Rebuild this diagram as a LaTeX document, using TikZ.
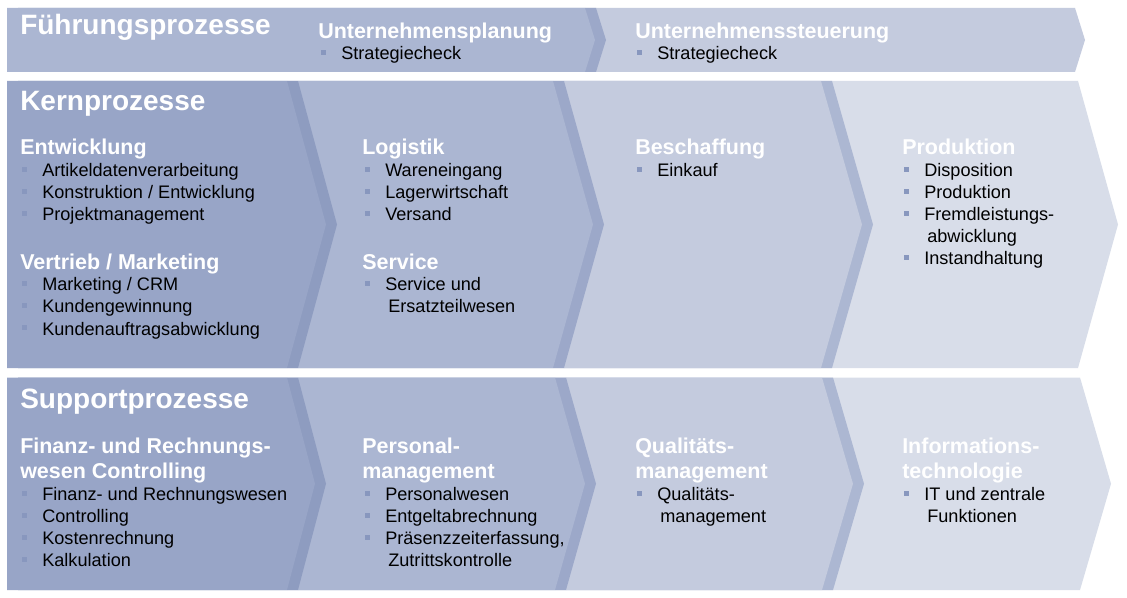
\documentclass[tikz,border=0pt]{standalone}
\usepackage{fontspec}
\setmainfont{Liberation Sans}
\definecolor{cA}{RGB}{152,165,199}
\definecolor{cB}{RGB}{171,182,210}
\definecolor{cC}{RGB}{196,203,222}
\definecolor{cD}{RGB}{216,221,233}
\definecolor{bA}{RGB}{142,156,192}
\definecolor{bB}{RGB}{156,168,201}
\definecolor{bC}{RGB}{172,183,210}
\definecolor{bulc}{RGB}{136,151,190}
\tikzset{
  rowhead/.style={anchor=base west, inner sep=0pt, text=white, font=\fontsize{21}{25}\selectfont\bfseries},
  subhead/.style={anchor=base west, inner sep=0pt, text=white, font=\fontsize{16.1}{19}\selectfont\bfseries},
  itemtext/.style={anchor=base west, inner sep=0pt, text=black, font=\fontsize{13.6}{16}\selectfont},
  bulletsq/.style={fill=bulc},
  shadowband/.style={shift={(11,0)}}
}
\newcommand\itm[4]{\node[itemtext] (#1) at (#2,#3) {#4};\fill[bulletsq] (#2-20,#3-9.5) rectangle ++(5,5);}
\begin{document}
\begin{tikzpicture}[x=0.75pt,y=-0.75pt]
\fill[white] (0,0) rectangle (1127,598);
\useasboundingbox (0,0) rectangle (1127,598);
% ---------- Row 1 ----------
\fill[cC] (585,8)--(1075,8)--(1085,40)--(1075,72)--(585,72)--(595,40)--cycle;
\fill[bB,shadowband] (7,8)--(585,8)--(595,40)--(585,72)--(7,72)--cycle;
\fill[cB] (7,8)--(585,8)--(595,40)--(585,72)--(7,72)--cycle;
% ---------- Row 2 ----------
\fill[cD] (821,81)--(1078,81)--(1118,224.5)--(1078,368)--(821,368)--(862,224.5)--cycle;
\fill[bC,shadowband] (553,81)--(821,81)--(862,224.5)--(821,368)--(553,368)--(593,224.5)--cycle;
\fill[cC] (553,81)--(821,81)--(862,224.5)--(821,368)--(553,368)--(593,224.5)--cycle;
\fill[bB,shadowband] (287,81)--(553,81)--(593,224.5)--(553,368)--(287,368)--(326,224.5)--cycle;
\fill[cB] (287,81)--(553,81)--(593,224.5)--(553,368)--(287,368)--(326,224.5)--cycle;
\fill[bA,shadowband] (7,81)--(287,81)--(326,224.5)--(287,368)--(7,368)--cycle;
\fill[cA] (7,81)--(287,81)--(326,224.5)--(287,368)--(7,368)--cycle;
% ---------- Row 3 ----------
\fill[cD] (822,377.5)--(1080,377.5)--(1111,483.75)--(1080,590)--(822,590)--(853,483.75)--cycle;
\fill[bC,shadowband] (555,377.5)--(822,377.5)--(853,483.75)--(822,590)--(555,590)--(585,483.75)--cycle;
\fill[cC] (555,377.5)--(822,377.5)--(853,483.75)--(822,590)--(555,590)--(585,483.75)--cycle;
\fill[bB,shadowband] (287,377.5)--(555,377.5)--(585,483.75)--(555,590)--(287,590)--(315,483.75)--cycle;
\fill[cB] (287,377.5)--(555,377.5)--(585,483.75)--(555,590)--(287,590)--(315,483.75)--cycle;
\fill[bA,shadowband] (7,377.5)--(287,377.5)--(315,483.75)--(287,590)--(7,590)--cycle;
\fill[cA] (7,377.5)--(287,377.5)--(315,483.75)--(287,590)--(7,590)--cycle;
% ---------- Texts row 1 ----------
\node[rowhead] (fp) at (20,35) {Führungsprozesse};
\node[subhead] (up) at (318,39) {Unternehmensplanung};
\itm{upa}{341}{60}{Strategiecheck}
\node[subhead] (us) at (635,39) {Unternehmenssteuerung};
\itm{usa}{657}{60}{Strategiecheck}
% ---------- Texts row 2 ----------
\node[rowhead] (kp) at (20,111) {Kernprozesse};
\node[subhead] (ew) at (20,155) {Entwicklung};
\itm{ewa}{42}{177}{Artikeldatenverarbeitung}
\itm{ewb}{42}{199}{Konstruktion / Entwicklung}
\itm{ewc}{42}{221}{Projektmanagement}
\node[subhead] (vm) at (20,270) {Vertrieb / Marketing};
\itm{vma}{42}{291}{Marketing / CRM}
\itm{vmb}{42}{313}{Kundengewinnung}
\itm{vmc}{42}{335}{Kundenauftragsabwicklung}
\node[subhead] (lo) at (362,155) {Logistik};
\itm{loa}{385}{177}{Wareneingang}
\itm{lob}{385}{199}{Lagerwirtschaft}
\itm{loc}{385}{221}{Versand}
\node[subhead] (se) at (362,270) {Service};
\itm{sea}{385}{291}{Service und}
\node[itemtext] (seb) at (388,313) {Ersatzteilwesen};
\node[subhead] (be) at (635,155) {Beschaffung};
\itm{bea}{657}{177}{Einkauf}
\node[subhead] (pr) at (902,155) {Produktion};
\itm{pra}{924}{177}{Disposition}
\itm{prb}{924}{199}{Produktion}
\itm{prc}{924}{221}{Fremdleistungs-}
\node[itemtext] (prd) at (927,243) {abwicklung};
\itm{pre}{924}{265}{Instandhaltung}
% ---------- Texts row 3 ----------
\node[rowhead] (sp) at (20,408) {Supportprozesse};
\node[subhead] (fra) at (20,453) {Finanz- und Rechnungs-};
\node[subhead] (frb) at (20,478) {wesen Controlling};
\itm{fri}{42}{500}{Finanz- und Rechnungswesen}
\itm{frj}{42}{522}{Controlling}
\itm{frk}{42}{544}{Kostenrechnung}
\itm{frl}{42}{566}{Kalkulation}
\node[subhead] (pma) at (362,453) {Personal-};
\node[subhead] (pmb) at (362,478) {management};
\itm{pmi}{385}{500}{Personalwesen}
\itm{pmj}{385}{522}{Entgeltabrechnung}
\itm{pmk}{385}{544}{Präsenzzeiterfassung,}
\node[itemtext] (pml) at (388,566) {Zutrittskontrolle};
\node[subhead] (qma) at (635,453) {Qualitäts-};
\node[subhead] (qmb) at (635,478) {management};
\itm{qmi}{657}{500}{Qualitäts-}
\node[itemtext] (qmj) at (660,522) {management};
\node[subhead] (ita) at (902,453) {Informations-};
\node[subhead] (itb) at (902,478) {technologie};
\itm{iti}{924}{500}{IT und zentrale}
\node[itemtext] (itj) at (927,522) {Funktionen};
\end{tikzpicture}
\end{document}
